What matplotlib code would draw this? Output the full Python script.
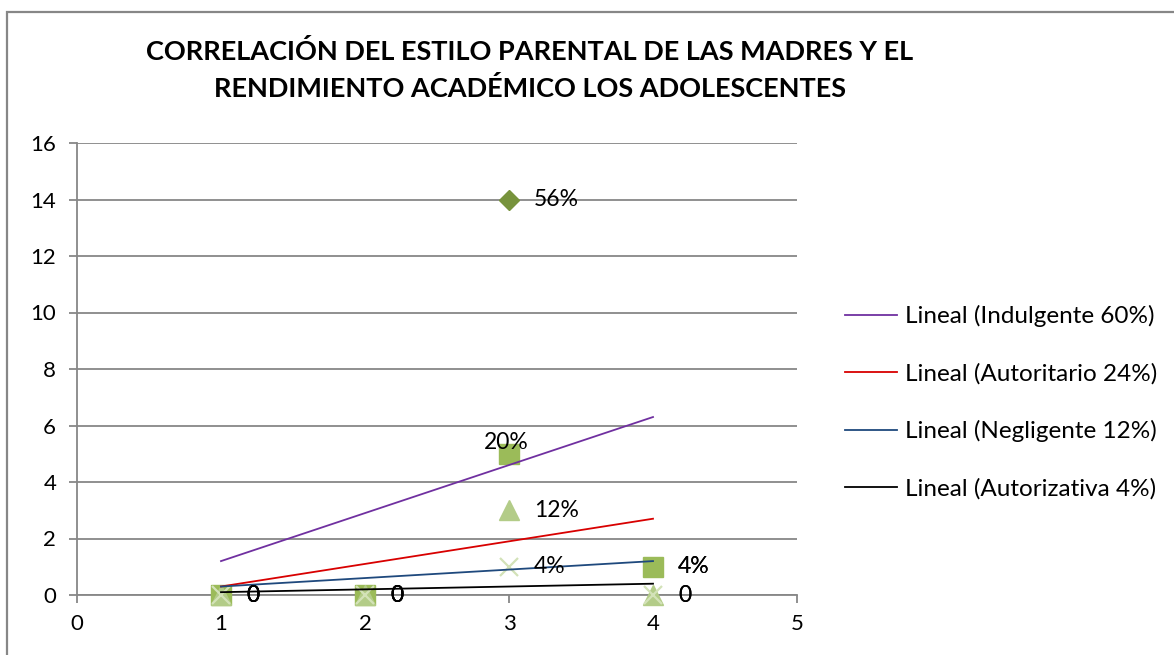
import numpy as np
import matplotlib
matplotlib.use("Agg")
import matplotlib.pyplot as plt
from matplotlib.patches import Rectangle

plt.rcParams['font.family'] = ['Lato', 'DejaVu Sans']

# ---- data ----
x_vals = [1, 2, 3, 4]
series_names = ["Indulgente 60%", "Autoritario 24%", "Negligente 12%", "Autorizativa 4%"]
indulgente = [0, 0, 14, 1]
autoritario = [0, 0, 5, 1]
negligente = [0, 0, 3, 0]
autorizativa = [0, 0, 1, 0]
labels_indulgente = ["0", "0", "56%", "4%"]
labels_autoritario = ["0", "0", "20%", "4%"]
labels_negligente = ["0", "0", "12%", "0"]
labels_autorizativa = ["0", "0", "4%", "0"]
title = "CORRELACIÓN DEL ESTILO PARENTAL DE LAS MADRES Y EL\nRENDIMIENTO ACADÉMICO LOS ADOLESCENTES"
x_ticks = [0, 1, 2, 3, 4, 5]
y_ticks = [0, 2, 4, 6, 8, 10, 12, 14, 16]

values = [indulgente, autoritario, negligente, autorizativa]
labels = [labels_indulgente, labels_autoritario, labels_negligente, labels_autorizativa]

# ---- styles ----
marker_styles = [
    dict(marker='D', ms=10.2, color='#77933C', mec='#77933C', ls='none'),
    dict(marker='s', ms=14.5, color='#9BBB59', mec='#9BBB59', ls='none'),
    dict(marker='^', ms=15, color='#B3CC88', mec='#B3CC88', ls='none'),
    dict(marker='x', ms=13, color='#D3E2B8', mec='#D3E2B8', mew=1.6, ls='none'),
]
trend_colors = ['#7030A0', '#D80000', '#1F497D', '#000000']
grey = '#878787'

fig = plt.figure(figsize=(11.74, 6.55), dpi=100)
W, H = 1174, 655

# outer chart border (cut by the image edges)
fig.patches.append(Rectangle((7 / W, -0.1), 1.2, (655 - 12) / H + 0.1, transform=fig.transFigure,
                             fill=False, edgecolor=grey, linewidth=1.6))

ax = fig.add_axes([77 / W, (655 - 595) / H, (797 - 77) / W, (595 - 143) / H])

xs = np.array(x_vals, dtype=float)
for vals, st in zip(values, marker_styles):
    ax.plot(xs, vals, zorder=3, clip_on=False, **st)

# linear trend lines
for vals, name, c in zip(values, series_names, trend_colors):
    coef = np.polyfit(xs, np.array(vals, dtype=float), 1)
    ax.plot(xs, np.polyval(coef, xs), color=c, lw=1.3, zorder=4, label=f"Lineal ({name})")

# data labels
for vals, labs in zip(values, labels):
    for xv, yv, lab in zip(xs, vals, labs):
        if lab == "20%":
            ax.annotate(lab, (xv, yv), xytext=(-3, 11), textcoords='offset pixels',
                        ha='center', va='center', fontsize=16.5, zorder=5)
        else:
            ax.annotate(lab, (xv, yv), xytext=(25, 0), textcoords='offset pixels',
                        ha='left', va='center', fontsize=16.5, zorder=5)

ax.set_xlim(0, 5)
ax.set_ylim(0, 16)
ax.set_xticks(x_ticks)
ax.set_yticks(y_ticks)
ax.tick_params(axis='both', labelsize=16, color=grey, length=6, width=1.3, direction='out')
ax.tick_params(axis='x', pad=8)
ax.tick_params(axis='y', pad=9)
ax.yaxis.grid(True, color=grey, linewidth=1.3)
ax.set_axisbelow(True)
for s in ['top', 'right']:
    ax.spines[s].set_visible(False)
for s in ['left', 'bottom']:
    ax.spines[s].set_color(grey)
    ax.spines[s].set_linewidth(1.3)

fig.text(530 / W, 1 - 70 / H, title, ha='center', va='center', fontsize=19.5,
         fontweight='bold', linespacing=1.55)

leg = fig.legend(loc='upper left', bbox_to_anchor=(845 / W, 1 - 305 / H), frameon=False,
                 fontsize=17.5, handlelength=2.15, handletextpad=0.3, labelspacing=1.47,
                 borderpad=0, borderaxespad=0)

fig.savefig("out.png", dpi=100)
